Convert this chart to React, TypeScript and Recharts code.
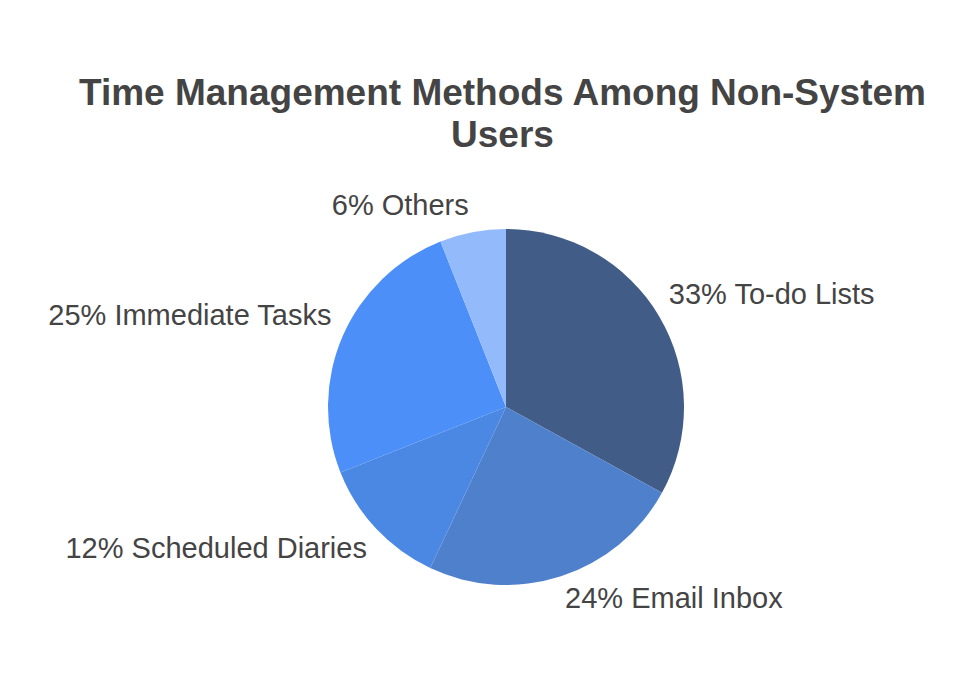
import { PieChart, Pie, Cell } from 'recharts'

const methods = ['To-do Lists', 'Email Inbox', 'Scheduled Diaries', 'Immediate Tasks', 'Others']
const shares = [33, 24, 12, 25, 6]
const colors = ['#415C86', '#4F80CC', '#4A88E4', '#4C8FF9', '#93BBFC']

const data = methods.map((name, i) => ({ name, value: shares[i] }))

const RAD = Math.PI / 180
const font = '"Liberation Sans", Arial, sans-serif'

function OutsideLabel(props: any) {
  const { cx, cy, midAngle, outerRadius, value, name } = props
  const r = outerRadius + 10
  const cos = Math.cos(-midAngle * RAD)
  const sin = Math.sin(-midAngle * RAD)
  const x = cx + r * cos
  const y = cy + r * sin
  const right = cos >= 0
  const upper = sin < 0
  return (
    <text
      x={x + (right ? 1 : -2)}
      y={upper ? y - 7 : y + 22}
      textAnchor={right ? 'start' : 'end'}
      fill="#444"
      fontSize={29}
      fontFamily={font}
    >
      {`${value}% ${name}`}
    </text>
  )
}

export default function App() {
  return (
    <div style={{ position: 'absolute', left: 0, top: 0, width: 975, height: 689, background: '#fff' }}>
      <div
        style={{
          position: 'absolute',
          left: 15,
          top: 72,
          width: 975,
          textAlign: 'center',
          fontFamily: font,
          fontWeight: 'bold',
          fontSize: 37,
          lineHeight: '42px',
          color: '#444',
        }}
      >
        Time Management Methods Among Non-System
        <br />
        Users
      </div>
      <PieChart width={975} height={689} margin={{ top: 0, right: 0, bottom: 0, left: 0 }}>
        <Pie
          data={data}
          dataKey="value"
          nameKey="name"
          cx={506}
          cy={407}
          outerRadius={178}
          startAngle={90}
          endAngle={-270}
          stroke="none"
          label={OutsideLabel}
          labelLine={false}
          isAnimationActive={false}
        >
          {data.map((d, i) => (
            <Cell key={d.name} fill={colors[i]} />
          ))}
        </Pie>
      </PieChart>
    </div>
  )
}
